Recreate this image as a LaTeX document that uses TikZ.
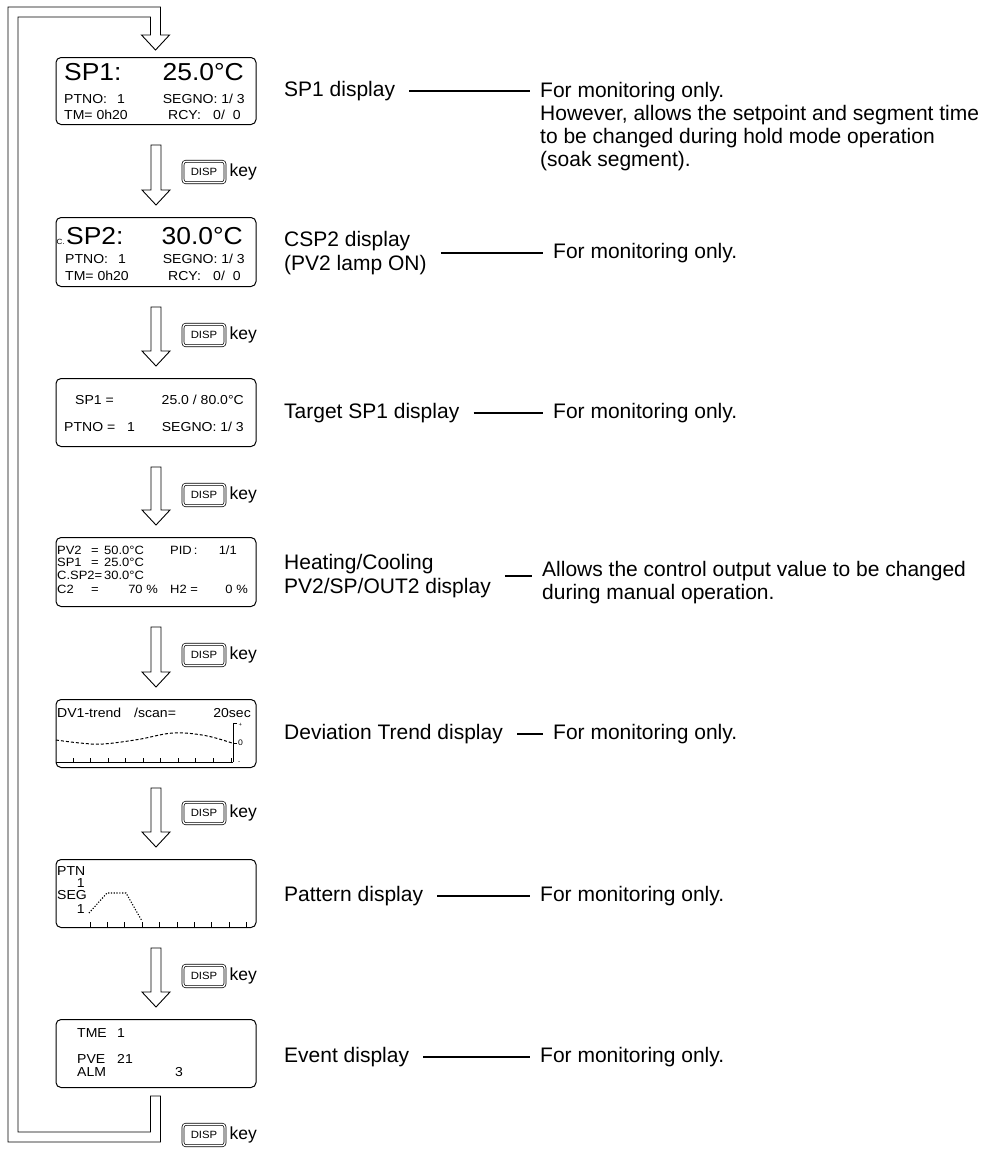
\documentclass[tikz,border=0pt]{standalone}
\usepackage{fontspec}
\setmainfont{Liberation Sans}
\newfontfamily\lcdfont[FakeStretch=1.08]{Liberation Sans}
\usetikzlibrary{calc}
\begin{document}
\begin{tikzpicture}[x=1pt,y=-1pt]
\tikzset{
  lcd/.style={draw, line width=1pt, rounded corners=5pt, minimum width=200pt, minimum height=68pt, anchor=north west, inner sep=0pt},
  big/.style={inner sep=0pt, font=\lcdfont\fontsize{24.5}{24.5}\selectfont},
  sm/.style={inner sep=0pt, font=\lcdfont\fontsize{13}{13}\selectfont},
  xs/.style={inner sep=0pt, font=\lcdfont\fontsize{12}{12}\selectfont},
  tiny/.style={inner sep=0pt, font=\lcdfont\fontsize{7.5}{7.5}\selectfont},
  arr/.style={draw, line width=0.9pt, fill=white, line join=miter},
  keybox/.style={draw, double, double distance=1.4pt, line width=0.7pt, rounded corners=3pt, minimum width=42pt, minimum height=21.5pt, inner sep=0pt, font=\lcdfont\fontsize{10.5}{10.5}\selectfont},
  keylbl/.style={anchor=west, inner sep=0pt, font=\fontsize{17.5}{17.5}\selectfont},
  lbl/.style={anchor=west, inner sep=0pt, align=left, font=\fontsize{21}{24}\selectfont},
  desc/.style={inner sep=0pt, align=left, anchor=north west, font=\fontsize{21}{23}\selectfont},
  conn/.style={line width=1.8pt, shorten <=14pt, shorten >=10pt},
  trendline/.style={line width=1pt, dash pattern=on 3pt off 2pt},
  patline/.style={line width=1.1pt, dash pattern=on 1.2pt off 1.6pt},
  tickline/.style={line width=0.9pt}
}
\newcommand{\blockarr}[2]{%
  \draw[arr] ($(#1.south)+(-5,20)$) -- ($(#1.south)+(5,20)$) -- ($(#2.north)+(5,-27)$) -- ($(#2.north)+(14,-27)$) -- ($(#2.north)+(0,-12)$) -- ($(#2.north)+(-14,-27)$) -- ($(#2.north)+(-5,-27)$) -- cycle;}
\useasboundingbox (0,0) rectangle (1000,1151);

% display boxes
\node[lcd, minimum height=67pt] (b1) at (55.5,57) {};
\node[lcd, minimum height=69pt] (b2) at (55.5,217) {};
\node[lcd] (b3) at (55.5,378) {};
\node[lcd, minimum height=69pt] (b4) at (55.5,537) {};
\node[lcd] (b5) at (55.5,699) {};
\node[lcd] (b6) at (55.5,859) {};
\node[lcd] (b7) at (55.5,1019) {};

% loop arrow
\draw[arr] (160.5,35) -- (160.5,7) -- (8,7) -- (8,1142) -- (160.5,1142) -- (160.5,1096) -- (150.5,1096) -- (150.5,1132) -- (18,1132) -- (18,17) -- (150.5,17) -- (150.5,35) -- (141.5,35) -- (155.5,50) -- (169.5,35) -- cycle;

% down arrows
\blockarr{b1}{b2}
\blockarr{b2}{b3}
\blockarr{b3}{b4}
\blockarr{b4}{b5}
\blockarr{b5}{b6}
\blockarr{b6}{b7}

% DISP keys
\foreach \i/\y in {1/172,2/335,3/495,4/655,5/813,6/976,7/1135}{
  \node[keybox] (k\i) at (204,\y) {DISP};
  \node[keylbl] (kl\i) at ([xshift=4pt]k\i.east) {key};
}

% box 1
\node[big, anchor=base west] (t1a) at (64,80) {SP1:};
\node[big, anchor=base east] (t1b) at (244,80) {25.0°C};
\node[sm, anchor=base west] (t1c) at (64,103) {PTNO:};
\node[sm, anchor=base west] (t1d) at (117,103) {1};
\node[sm, anchor=base east] (t1e) at (245,103) {SEGNO: 1/ 3};
\node[sm, anchor=base west] (t1f) at (64,119) {TM= 0h20};
\node[sm, anchor=base west] (t1g) at (168,119) {RCY:};
\node[sm, anchor=base west] (t1h) at (213,119) {0/};
\node[sm, anchor=base east] (t1i) at (241,119) {0};

% box 2
\node[tiny, anchor=base west] (t2z) at (56.5,244) {C.};
\node[big, anchor=base west] (t2a) at (66,244) {SP2:};
\node[big, anchor=base east] (t2b) at (243,244) {30.0°C};
\node[sm, anchor=base west] (t2c) at (65,263) {PTNO:};
\node[sm, anchor=base west] (t2d) at (118,263) {1};
\node[sm, anchor=base east] (t2e) at (245,263) {SEGNO: 1/ 3};
\node[sm, anchor=base west] (t2f) at (65,280) {TM= 0h20};
\node[sm, anchor=base west] (t2g) at (168,280) {RCY:};
\node[sm, anchor=base west] (t2h) at (213,280) {0/};
\node[sm, anchor=base east] (t2i) at (241,280) {0};

% box 3
\node[sm, anchor=base west] (t3a) at (75,404) {SP1 =};
\node[sm, anchor=base east] (t3b) at (244,404) {25.0 / 80.0°C};
\node[sm, anchor=base west] (t3c) at (64,431) {PTNO =};
\node[sm, anchor=base west] (t3d) at (127,431) {1};
\node[sm, anchor=base east] (t3e) at (244,431) {SEGNO: 1/ 3};

% box 4
\node[xs, anchor=base west] (t4a) at (57,554.5) {PV2};
\node[xs, anchor=base west] (t4b) at (91,554.5) {=};
\node[xs, anchor=base west] (t4c) at (104,554.5) {50.0°C};
\node[xs, anchor=base west] (t4d) at (170,554.5) {PID\,:};
\node[xs, anchor=base east] (t4e) at (237,554.5) {1/1};
\node[xs, anchor=base west] (t4f) at (57,566) {SP1};
\node[xs, anchor=base west] (t4g) at (91,566) {=};
\node[xs, anchor=base west] (t4h) at (104,566) {25.0°C};
\node[xs, anchor=base west] (t4i) at (57,579) {C.SP2=};
\node[xs, anchor=base west] (t4j) at (104,579) {30.0°C};
\node[xs, anchor=base west] (t4k) at (57,593.5) {C2};
\node[xs, anchor=base west] (t4l) at (91,593.5) {=};
\node[xs, anchor=base east] (t4m) at (158,593.5) {70 \%};
\node[xs, anchor=base west] (t4n) at (170,593.5) {H2 =};
\node[xs, anchor=base east] (t4o) at (248,593.5) {0 \%};

% box 5 (trend)
\node[sm, anchor=base west] (t5a) at (57,717) {DV1-trend};
\node[sm, anchor=base west] (t5b) at (134,717) {/scan=};
\node[sm, anchor=base east] (t5c) at (251,717) {20sec};
\draw[tickline] (56,762) -- (233,762);
\foreach \k in {0,...,9}{\draw[tickline] ({73+\k*17.55},762) -- ({73+\k*17.55},758);}
\draw[tickline] (237,723) -- (233,723) -- (233,762);
\draw[tickline] (233,743) -- (237,743);
\node[tiny, anchor=west, font=\lcdfont\fontsize{5.5}{5.5}\selectfont] (t5p) at (238.5,724.5) {+};
\node[tiny, anchor=west, font=\lcdfont\fontsize{8}{8}\selectfont] (t5z) at (238,743) {0};
\node[tiny, anchor=west, font=\lcdfont\fontsize{6}{6}\selectfont] (t5m) at (238,763) {-};
\draw[trendline] plot[smooth, tension=0.6] coordinates {(56,740) (80,743) (103,744) (138,739.5) (173,733) (205,735.5) (232,743)};

% box 6 (pattern)
\node[sm, anchor=base west] (t6a) at (57,875) {PTN};
\node[sm, anchor=base east] (t6b) at (85,887) {1};
\node[sm, anchor=base west] (t6c) at (57,899) {SEG};
\node[sm, anchor=base east] (t6d) at (85,913) {1};
\draw[patline] (89,913) -- (107,893) -- (126,893) -- (142,921);
\foreach \k in {0,...,9}{\draw[tickline] ({90+\k*17.4},927) -- ({90+\k*17.4},922);}

% box 7 (event)
\node[sm, anchor=base west] (t7a) at (77,1037) {TME};
\node[sm, anchor=base west] (t7b) at (117,1037) {1};
\node[sm, anchor=base west] (t7c) at (77,1063) {PVE};
\node[sm, anchor=base west] (t7d) at (117,1063) {21};
\node[sm, anchor=base west] (t7e) at (77,1076) {ALM};
\node[sm, anchor=base west] (t7f) at (175,1076) {3};

% right column
\node[lbl] (l1) at (284,91) {SP1 display};
\node[desc] (d1) at (540,82) {For monitoring only.\\However, allows the setpoint and segment time\\to be changed during hold mode operation\\(soak segment).};
\draw[conn] (l1.east) -- (l1.east -| d1.west);

\node[lbl] (l2) at (284,253) {CSP2 display\\(PV2 lamp ON)};
\node[desc, anchor=west] (d2) at (553,253) {For monitoring only.};
\draw[conn] (l2.east) -- (d2.west);

\node[lbl] (l3) at (284,413) {Target SP1 display};
\node[desc, anchor=west] (d3) at (553,413) {For monitoring only.};
\draw[conn] (l3.east) -- (d3.west);

\node[lbl] (l4) at (284,576) {Heating/Cooling\\PV2/SP/OUT2 display};
\node[desc] (d4) at (542,561) {Allows the control output value to be changed\\during manual operation.};
\draw[conn] (l4.east) -- (l4.east -| d4.west);

\node[lbl] (l5) at (284,734) {Deviation Trend display};
\node[desc, anchor=west] (d5) at (553,734) {For monitoring only.};
\draw[conn] (l5.east) -- (d5.west);

\node[lbl] (l6) at (284,896) {Pattern display};
\node[desc, anchor=west] (d6) at (540,896) {For monitoring only.};
\draw[conn] (l6.east) -- (d6.west);

\node[lbl] (l7) at (284,1057) {Event display};
\node[desc, anchor=west] (d7) at (540,1057) {For monitoring only.};
\draw[conn] (l7.east) -- (d7.west);
\end{tikzpicture}
\end{document}
